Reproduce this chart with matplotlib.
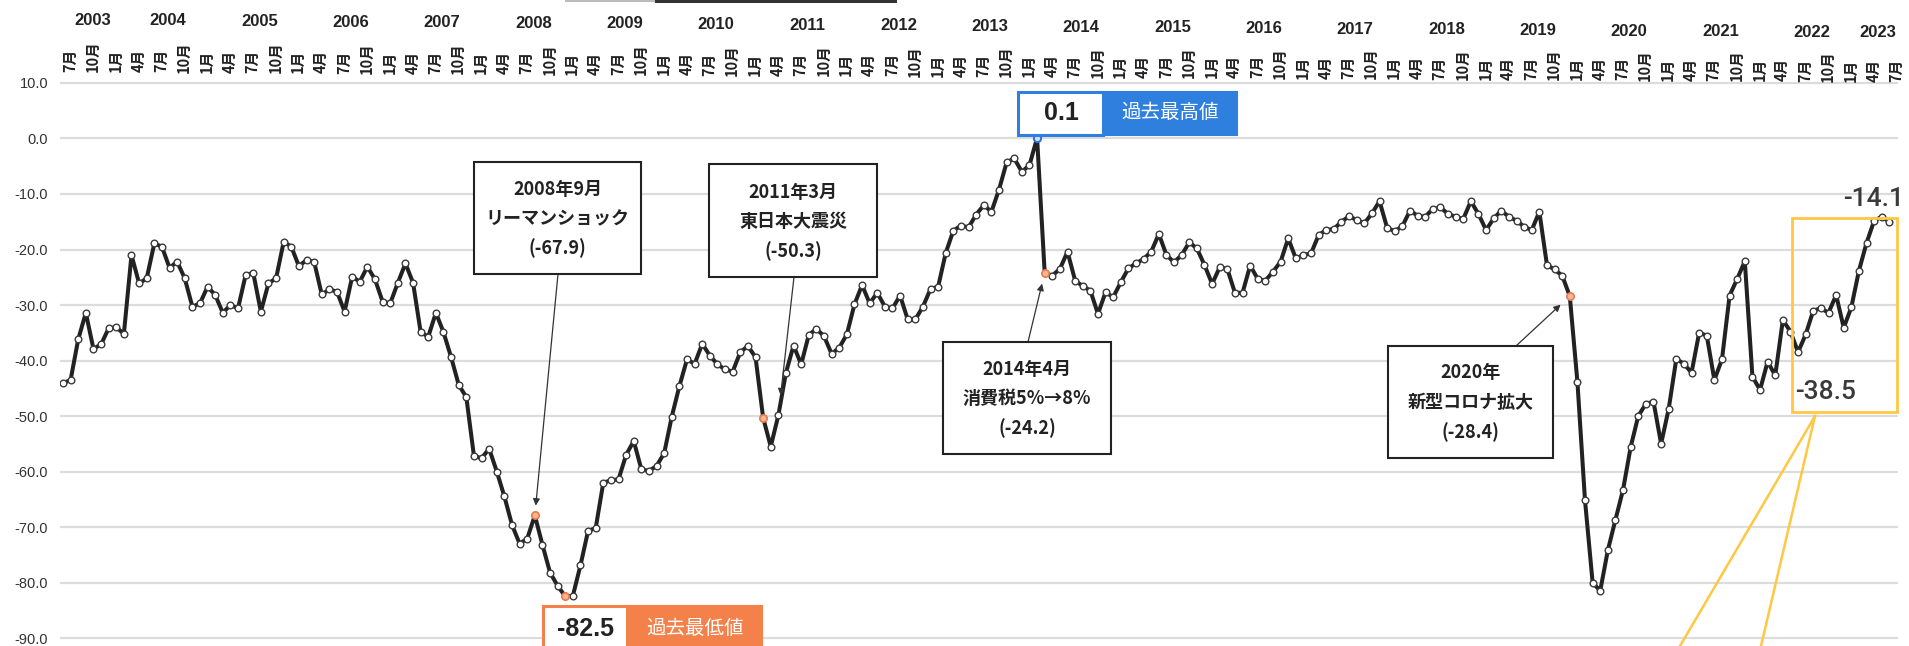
import pandas as pd
import matplotlib
matplotlib.use("Agg")
import matplotlib.pyplot as plt
from matplotlib.patches import Rectangle
from matplotlib.lines import Line2D
from matplotlib import font_manager

# ---- data (monthly DI, 2003-07 .. 2023-07) ----
months = pd.date_range("2003-07-01", "2023-07-01", freq="MS")

di_values = [
    -44.1, -43.5, -36.2, -31.4, -37.9, -37.1,                                   # 2003
    -34.2, -34.0, -35.2, -21.0, -26.1, -25.2, -18.9, -19.5, -23.3, -22.2, -25.2, -30.3,  # 2004
    -29.7, -26.7, -28.2, -31.4, -30.0, -30.6, -24.6, -24.2, -31.2, -26.1, -25.2, -18.6,  # 2005
    -19.5, -23.0, -21.9, -22.2, -28.1, -27.2, -27.6, -31.2, -24.9, -25.8, -23.1, -25.4,  # 2006
    -29.4, -29.7, -26.0, -22.5, -26.0, -34.9, -35.7, -31.4, -34.9, -39.4, -44.4, -46.6,  # 2007
    -57.2, -57.6, -55.9, -60.0, -64.5, -69.6, -73.0, -72.1, -67.9, -73.2, -78.2, -80.6,  # 2008
    -82.5, -82.4, -76.9, -70.7, -70.2, -62.0, -61.6, -61.4, -57.0, -54.5, -59.6, -59.9,  # 2009
    -59.0, -56.7, -50.1, -44.6, -39.8, -40.6, -37.0, -39.1, -40.7, -41.6, -42.0, -38.5,  # 2010
    -37.4, -39.4, -50.3, -55.5, -49.9, -42.2, -37.3, -40.7, -35.4, -34.3, -35.6, -38.8,  # 2011
    -37.7, -35.3, -29.9, -26.4, -29.7, -27.8, -30.3, -30.6, -28.3, -32.6, -32.6, -30.3,  # 2012
    -27.1, -26.7, -20.6, -16.6, -15.7, -16.0, -13.7, -12.0, -13.2, -9.2, -4.3, -3.6,     # 2013
    -6.0, -4.8, 0.1, -24.2, -24.7, -23.5, -20.4, -25.6, -26.6, -27.4, -31.6, -27.7,      # 2014
    -28.6, -25.9, -23.4, -22.5, -21.7, -20.4, -17.2, -21.0, -22.3, -21.0, -18.7, -19.8,  # 2015
    -22.8, -26.2, -23.2, -23.5, -27.8, -27.8, -22.9, -25.3, -25.6, -24.0, -22.2, -18.0,  # 2016
    -21.6, -21.0, -20.7, -17.4, -16.5, -16.3, -15.0, -14.0, -14.7, -15.3, -13.5, -11.3,  # 2017
    -16.1, -16.7, -15.8, -13.0, -13.9, -14.1, -12.7, -12.4, -13.6, -14.1, -14.5, -11.3,  # 2018
    -13.6, -16.5, -14.4, -13.0, -14.1, -14.8, -15.9, -16.5, -13.2, -22.8, -23.6, -24.7,  # 2019
    -28.4, -43.8, -65.2, -80.0, -81.5, -74.2, -68.7, -63.3, -55.6, -50.0, -47.8, -47.4,  # 2020
    -55.0, -48.7, -39.7, -40.6, -42.2, -35.0, -35.5, -43.5, -39.8, -28.3, -25.3, -22.1,  # 2021
    -42.9, -45.3, -40.2, -42.7, -32.7, -34.8, -38.5, -35.3, -31.0, -30.6, -31.4, -28.2,  # 2022
    -34.1, -30.4, -23.8, -18.8, -14.8, -14.1, -15.0,                                     # 2023
]

years = list(range(2003, 2024))
quarter_labels = ["7月", "10月", "1月", "4月"]

events = [
    ("2008-09", ["2008年9月", "リーマンショック"]),
    ("2011-03", ["2011年3月", "東日本大震災"]),
    ("2014-04", ["2014年4月", "消費税5%→8%"]),
    ("2020-01", ["2020年", "新型コロナ拡大"]),
]
recent_low_month = "2022-07"
recent_high_month = "2023-06"

# ---- fonts ----
CJK = ["Noto Sans CJK JP", "DejaVu Sans"]
installed = {f.name for f in font_manager.fontManager.ttflist}
NARROW = "Liberation Sans Narrow" if "Liberation Sans Narrow" in installed else "Liberation Sans"
year_size = 14 if NARROW == "Liberation Sans Narrow" else 12
plt.rcParams["font.family"] = ["Liberation Sans", "DejaVu Sans"]

W, H = 1909, 646
fig = plt.figure(figsize=(W / 100, H / 100), dpi=100)
ax = fig.add_axes([60 / W, 0, 1838 / W, 566 / H])

x = list(range(len(months)))
ax.plot(x, di_values, color="#222222", lw=2.9, marker="o", ms=4.8,
        mfc="white", mec="#3a3a3a", mew=1.0, zorder=3)


def idx(m):
    return months.get_loc(pd.Timestamp(m + "-01"))


low_i = di_values.index(min(di_values))
high_i = di_values.index(max(di_values))
orange_pts = [idx(m) for m, _ in events] + [low_i]
ax.plot(orange_pts, [di_values[i] for i in orange_pts], ls="none", marker="o",
        ms=5.2, mfc="#f7b79a", mec="#ee7c4c", mew=1.2, zorder=4)
ax.plot([high_i], [di_values[high_i]], ls="none", marker="o", ms=5.2,
        mfc="#cfe0f7", mec="#2e6fd8", mew=1.4, zorder=4)

ax.set_xlim(-0.394, 241.13)
ax.set_ylim(-91.44, 10.54)
ticks = list(range(-90, 11, 10))
ax.set_yticks(ticks)
ax.set_yticklabels([f"{t:.1f}" for t in ticks])
ax.tick_params(axis="y", length=0, pad=8.6, labelsize=10.5, labelcolor="#333333")
ax.set_xticks([])
ax.grid(axis="y", color="#dcdcdc", lw=1.6)
ax.set_axisbelow(True)
for s in ax.spines.values():
    s.set_visible(False)


# the scanned original drifts down slightly to the right
def top_y(i, left_px, right_px):
    py = left_px + (right_px - left_px) * i / 240
    return 1 + (80 - py) / 566


xt = ax.get_xaxis_transform()
for k, i in enumerate(range(0, len(months), 3)):
    ax.text(i + 0.9, top_y(i, 72, 82), quarter_labels[k % 4], rotation=90,
            ha="center", va="bottom", transform=xt, fontsize=10.5,
            fontweight="bold", family=CJK, color="#222222", clip_on=False)

for y in years:
    if y == years[0]:
        pos = 3.9
    elif y == years[-1]:
        pos = 238.5
    else:
        pos = 12 * (y - 2004) + 13.8
    ax.text(pos, top_y(pos, 20, 33), str(y), ha="center", va="center",
            transform=xt, fontsize=year_size, fontweight="bold", family=NARROW,
            color="#222222", clip_on=False)


# ---- annotation helpers in figure pixels (origin top-left) ----
def fpt(px, py):
    return px / W, 1 - py / H


def box(x0, y0, x1, y1, fc="white", ec="#222222", lw=1.5):
    fig.add_artist(Rectangle(fpt(x0, y1), (x1 - x0) / W, (y1 - y0) / H,
                             transform=fig.transFigure, facecolor=fc,
                             edgecolor=ec, linewidth=lw, zorder=5))


def label(px, py, s, **kw):
    fig.text(px / W, 1 - py / H, s, ha="center", va="center", zorder=6, **kw)


def arrow(xy, start, shrink=0):
    ax.annotate("", xy=xy, xycoords="data", xytext=fpt(*start),
                textcoords="figure fraction", annotation_clip=False,
                arrowprops=dict(arrowstyle="-|>", color="#333333",
                                lw=0.9, shrinkA=0, shrinkB=shrink, mutation_scale=10),
                zorder=4)


box_layout = [
    # box x0, y0, x1, y1, first line y, arrow start, arrow target, shrink
    (474, 162, 641, 274, 189, (558, 274), None, 7),
    (709, 164, 877, 277, 192, (794, 277), (94.3, -46.3), 0),
    (943, 342, 1111, 454, 369, (1028, 342), None, 8),
    (1388, 346, 1553, 458, 373, (1516, 346), None, 9),
]
for (m, lines), (x0, y0, x1, y1, ly, start, target, shr) in zip(events, box_layout):
    i = idx(m)
    if target is None:
        target = (i, di_values[i])
    arrow(target, start, shrink=shr)
    box(x0, y0, x1, y1)
    cx = (x0 + x1) / 2
    texts = lines + [f"({di_values[i]:.1f})"]
    for k, t in enumerate(texts):
        label(cx, ly + 29.5 * k, t, fontsize=13, fontweight="bold", family=CJK,
              color="#222222")

# highest value tag
box(1103, 92, 1237, 135, fc="#2f7fdf", ec="#2f7fdf", lw=1.5)
box(1018, 92, 1103, 135, fc="white", ec="#2f7fdf", lw=2.2)
label(1061, 113, f"{di_values[high_i]:.1f}", fontsize=18, fontweight="bold",
      family="Liberation Sans", color="#222222")
label(1170, 113, "過去最高値", fontsize=14, family=CJK, color="white")

# lowest value tag
box(627, 606, 762, 680, fc="#f4804a", ec="#f4804a", lw=1.5)
box(543, 606, 627, 680, fc="white", ec="#f4804a", lw=2.2)
label(586, 629, f"{di_values[low_i]:.1f}", fontsize=18, fontweight="bold",
      family="Liberation Sans", color="#222222")
label(695, 629, "過去最低値", fontsize=14, family=CJK, color="white")

# recent-period highlight
box(1792, 218, 1897, 412, fc="none", ec="#ffc744", lw=2.0)
for end in [(1680, 646), (1761, 646)]:
    (ax0, ay0), (ax1, ay1) = fpt(1815, 416), fpt(*end)
    fig.add_artist(Line2D([ax0, ax1], [ay0, ay1], transform=fig.transFigure,
                          color="#ffc744", lw=1.8, zorder=5))
label(1826, 392, f"{di_values[idx(recent_low_month)]:.1f}", fontsize=19,
      fontweight="medium", family="Roboto", color="#3a3a3a")
label(1874, 199, f"{di_values[idx(recent_high_month)]:.1f}", fontsize=19,
      fontweight="medium", family="Roboto", color="#3a3a3a")

# edge of a cut-off element at the very top
box(565, -3, 655, 1.5, fc="#bbbbbb", ec="none", lw=0)
box(655, -3, 897, 2.5, fc="#333333", ec="none", lw=0)

fig.savefig("out.png", dpi=100)
